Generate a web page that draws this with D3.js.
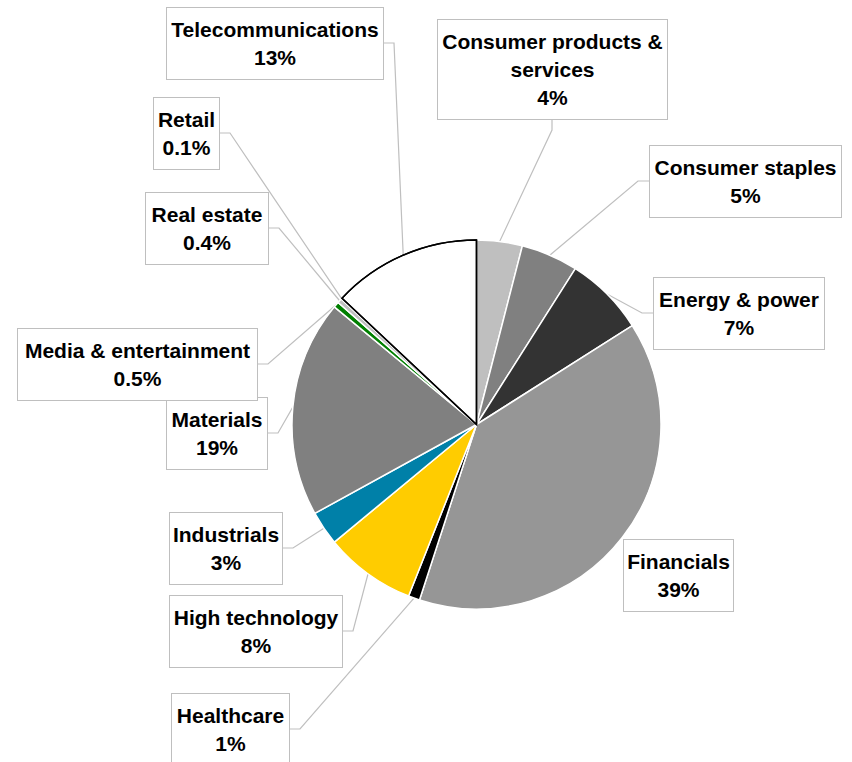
<!DOCTYPE html>
<html>
<head>
<meta charset="utf-8">
<script src="https://cdn.jsdelivr.net/npm/d3@7"></script>
<style>
body { margin: 0; background: #fff; }
svg { display: block; }
</style>
</head>
<body>
<div id="chart"></div>
<script>
// sectors, clockwise from 12 o'clock
var categories = ["Consumer products & services", "Consumer staples", "Energy & power", "Financials",
  "Healthcare", "High technology", "Industrials", "Materials", "Media & entertainment",
  "Real estate", "Retail", "Telecommunications"];
var values = [4, 5, 7, 39, 1, 8, 3, 19, 0.5, 0.4, 0.1, 13];
var colors = ["#bfbfbf", "#808080", "#333333", "#969696", "#000000", "#ffcc00", "#0080a8",
  "#808080", "#008000", "#c0c0c0", "#800080", "#ffffff"];

// label boxes: x, y, w, h, side where the leader line joins
var boxes = [
  [437, 19, 230, 100, "bottom"],
  [649, 145, 192, 72, "left"],
  [653, 277, 171, 72, "left"],
  [623, 539, 110, 72, "none"],
  [171, 693, 118, 72, "right"],
  [169, 595, 173, 72, "right"],
  [169, 512, 113, 72, "right"],
  [166, 397, 101, 72, "right"],
  [17, 328, 240, 72, "right"],
  [145, 192, 123, 72, "right"],
  [153, 97, 66, 72, "right"],
  [166, 7, 217, 72, "right"]
];

var width = 852, height = 762;
var cx = 476.5, cy = 424.5, radius = 184.5;

var svg = d3.select("#chart").append("svg")
    .attr("width", width)
    .attr("height", height);

var pie = d3.pie().sort(null).value(function(d){ return d; });
var arcs = pie(values);
var arc = d3.arc().innerRadius(0).outerRadius(radius);

// leader lines
var lines = svg.append("g");
arcs.forEach(function(d, i){
  var b = boxes[i];
  if (b[4] == "none") return;
  var a = (d.startAngle + d.endAngle) / 2;
  var p0 = [cx + radius * Math.sin(a), cy - radius * Math.cos(a)];
  var end, elbow;
  if (b[4] == "left") { end = [b[0], b[1] + b[3] / 2]; elbow = [end[0] - 11, end[1]]; }
  if (b[4] == "right") { end = [b[0] + b[2], b[1] + b[3] / 2]; elbow = [end[0] + 11, end[1]]; }
  if (b[4] == "bottom") { end = [b[0] + b[2] / 2, b[1] + b[3]]; elbow = [end[0], end[1] + 11]; }
  lines.append("path")
    .attr("d", d3.line()([p0, elbow, end]))
    .attr("fill", "none")
    .attr("stroke", "#bfbfbf")
    .attr("stroke-width", 1.2);
});

var g = svg.append("g").attr("transform", "translate(" + cx + "," + cy + ")");
g.selectAll("path")
  .data(arcs)
  .enter()
  .append("path")
  .attr("d", arc)
  .attr("fill", function(d, i){ return colors[i]; })
  .attr("stroke", function(d, i){ return i == 11 ? "#000" : "#fff"; })
  .attr("stroke-width", 1.5)
  .attr("stroke-linejoin", "round");
// keep the black outline on top
g.append("path").attr("d", arc(arcs[11]))
  .attr("fill", "none").attr("stroke", "#000").attr("stroke-width", 1.5);

// label boxes
var labels = svg.selectAll("g.lab")
  .data(arcs)
  .enter()
  .append("g")
  .attr("class", "lab");

labels.append("rect")
  .attr("x", function(d, i){ return boxes[i][0] + 0.5; })
  .attr("y", function(d, i){ return boxes[i][1] + 0.5; })
  .attr("width", function(d, i){ return boxes[i][2]; })
  .attr("height", function(d, i){ return boxes[i][3]; })
  .attr("fill", "#fff")
  .attr("stroke", "#bfbfbf")
  .attr("stroke-width", 1);

labels.each(function(d, i){
  var b = boxes[i];
  var t = d3.select(this).append("text")
    .attr("text-anchor", "middle")
    .style("font-family", "'Liberation Sans', Arial, sans-serif")
    .style("font-weight", "bold")
    .style("font-size", "21px")
    .attr("fill", "#000");
  // wrap the category name to the box width
  var words = categories[i].split(" "), rows = [], cur = "";
  var probe = t.append("tspan");
  words.forEach(function(w){
    var test = cur ? cur + " " + w : w;
    probe.text(test);
    if (cur && probe.node().getComputedTextLength() > b[2] - 6) { rows.push(cur); cur = w; }
    else cur = test;
  });
  rows.push(cur);
  probe.remove();
  rows.push(values[i] + "%");
  rows.forEach(function(r, k){
    t.append("tspan")
      .attr("x", b[0] + b[2] / 2 + 0.5)
      .attr("y", b[1] + 30 + k * 28)
      .text(r);
  });
});
</script>
</body>
</html>
